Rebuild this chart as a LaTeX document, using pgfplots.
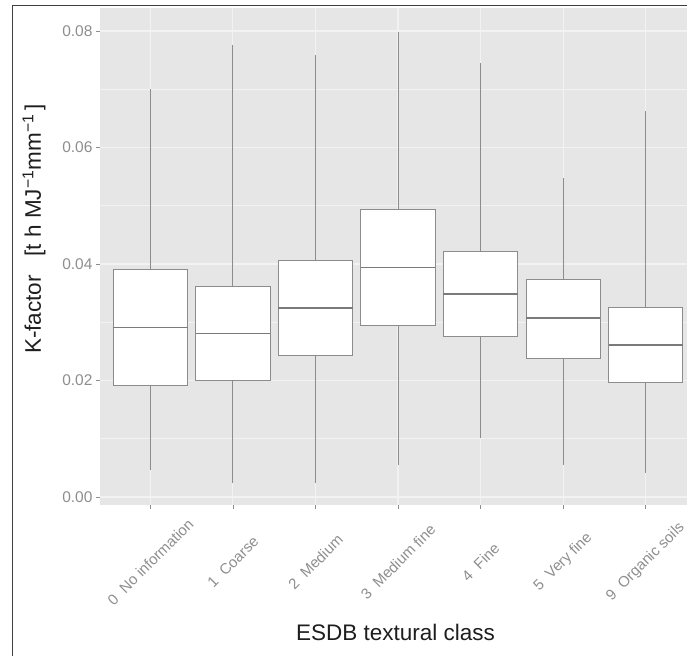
\documentclass[border=0pt]{standalone}
\usepackage{fontspec}
\setmainfont{Liberation Sans}
\usepackage{pgfplots}
\pgfplotsset{compat=1.18}
\usepgfplotslibrary{statistics}
\definecolor{panelbg}{HTML}{E6E6E6}
\definecolor{gridc}{HTML}{F2F2F2}
\definecolor{boxc}{HTML}{8C8C8C}
\definecolor{medc}{HTML}{7A7A7A}
\definecolor{tickc}{HTML}{8E8E8E}
\definecolor{titlec}{HTML}{1E1E1E}
\definecolor{framec}{HTML}{404040}
\begin{document}
\begin{tikzpicture}
\useasboundingbox (0pt,0pt) rectangle (687pt,-655pt);
\begin{axis}[
  at={(100pt,-505pt)}, anchor=south west,
  scale only axis, width=587pt, height=497pt,
  xmin=-0.61, xmax=6.5, ymin=-0.001373, ymax=0.08395,
  axis background/.style={fill=panelbg},
  axis line style={draw=none},
  tick pos=left, tick align=outside,
  major tick length=4pt, minor tick length=0pt,
  tick style={draw=tickc, line width=0.8pt},
  xtick={0,1,2,3,4,5,6},
  xticklabels={0\ \ No information, 1\ \ Coarse, 2\ \ Medium, 3\ \ Medium fine, 4\ \ Fine, 5\ \ Very fine, 9\ \ Organic soils},
  ytick={0,0.02,0.04,0.06,0.08},
  minor ytick={0.01,0.03,0.05,0.07},
  scaled y ticks=false,
  yticklabel style={/pgf/number format/fixed, /pgf/number format/fixed zerofill, /pgf/number format/precision=2, /pgf/number format/assume math mode=true, font=\fontsize{15.5}{17}\selectfont, text=tickc},
  xticklabel shift=53pt,
  xticklabel style={rotate=45, anchor=center, font=\fontsize{15}{17}\selectfont, text=tickc},
  xmajorgrids, ymajorgrids, yminorgrids,
  major grid style={draw=gridc, line width=1.1pt},
  minor grid style={draw=gridc, line width=0.6pt},
  xlabel={ESDB textural class},
  ylabel={K-factor\ \ \ [t h MJ\textsuperscript{−1}mm\textsuperscript{−1}\,]},
  xlabel style={at={(axis description cs:0.5034,-0.2555)}, anchor=center, font=\fontsize{22.5}{27}\selectfont, text=titlec},
  ylabel style={at={(axis description cs:-0.1124,0.555)}, anchor=center, font=\fontsize{22.5}{27}\selectfont, text=titlec},
  boxplot/draw direction=y,
  boxplot/every median/.style={draw=medc, line width=1.6pt},
  boxplot/every whisker/.style={draw=boxc, line width=1pt},
  boxst/.style={draw=boxc, fill=white, line width=0.9pt, solid},
]
\addplot[boxst, boxplot prepared={draw position=0, lower whisker=0.0046, lower quartile=0.0191, median=0.0291, upper quartile=0.0391, upper whisker=0.0700, box extend=0.9, whisker extend=0}] coordinates {};
\addplot[boxst, boxplot prepared={draw position=1, lower whisker=0.0024, lower quartile=0.0200, median=0.0281, upper quartile=0.0362, upper whisker=0.0776, box extend=0.9, whisker extend=0}] coordinates {};
\addplot[boxst, boxplot prepared={draw position=2, lower whisker=0.0024, lower quartile=0.0243, median=0.0324, upper quartile=0.0406, upper whisker=0.0759, box extend=0.9, whisker extend=0}] coordinates {};
\addplot[boxst, boxplot prepared={draw position=3, lower whisker=0.0055, lower quartile=0.0295, median=0.0394, upper quartile=0.0493, upper whisker=0.0798, box extend=0.9, whisker extend=0}] coordinates {};
\addplot[boxst, boxplot prepared={draw position=4, lower whisker=0.0101, lower quartile=0.0275, median=0.0349, upper quartile=0.0421, upper whisker=0.0745, box extend=0.9, whisker extend=0}] coordinates {};
\addplot[boxst, boxplot prepared={draw position=5, lower whisker=0.0055, lower quartile=0.0238, median=0.0307, upper quartile=0.0374, upper whisker=0.0547, box extend=0.9, whisker extend=0}] coordinates {};
\addplot[boxst, boxplot prepared={draw position=6, lower whisker=0.0041, lower quartile=0.0197, median=0.0261, upper quartile=0.0325, upper whisker=0.0662, box extend=0.9, whisker extend=0}] coordinates {};
\end{axis}
\draw[framec, line width=1.4pt] (12.7pt,-660pt) -- (12.7pt,-5.7pt) -- (700pt,-5.7pt);
\end{tikzpicture}
\end{document}
